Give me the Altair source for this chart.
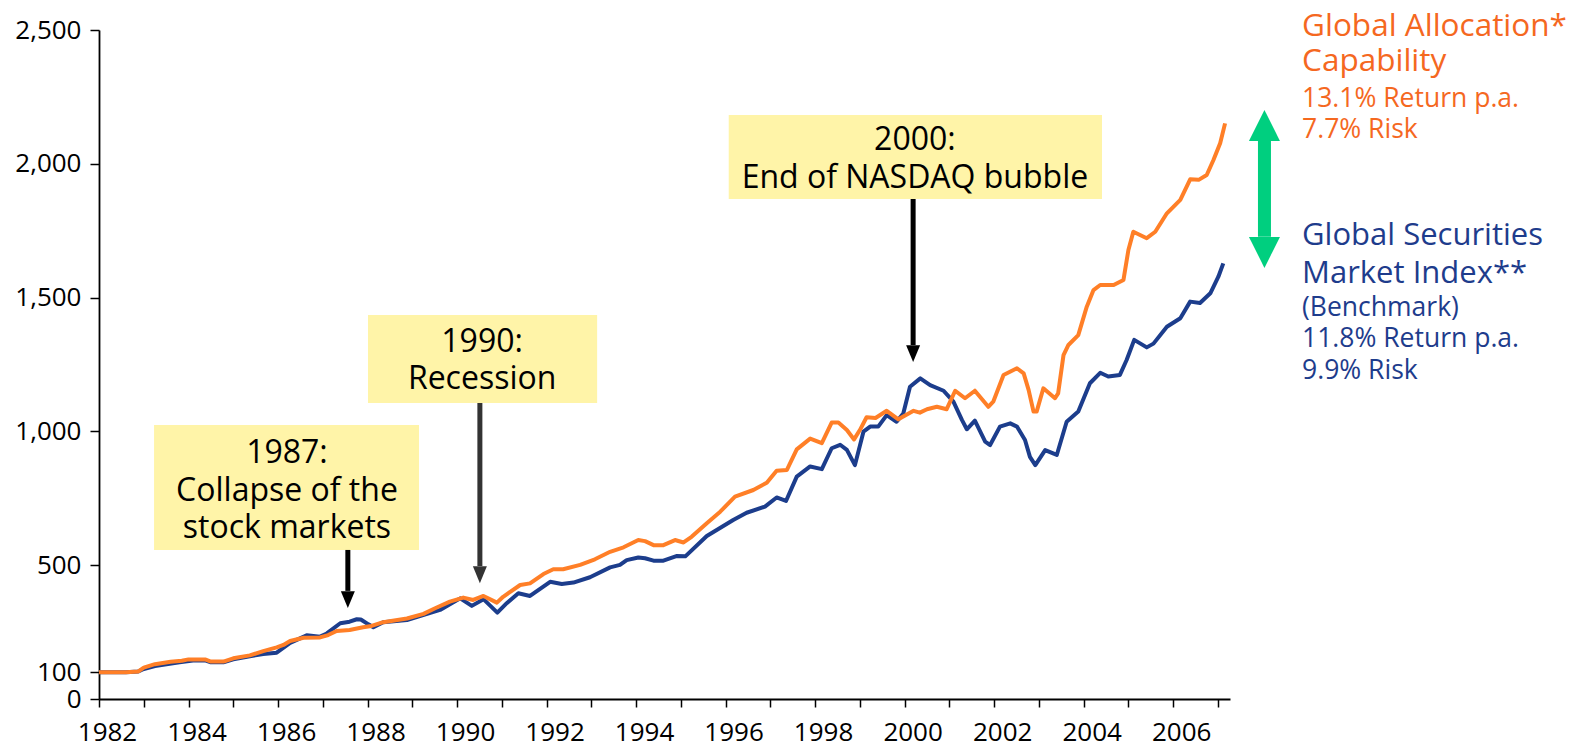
import altair as alt
import pandas as pd

# ---------------- data ----------------
ga_years = [1982.0, 1982.6, 1982.88, 1983.0, 1983.25, 1983.6, 1983.85, 1984.0, 1984.37, 1984.5,
            1984.78, 1985.0, 1985.37, 1985.67, 1985.97, 1986.12, 1986.27, 1986.57, 1986.94, 1987.12,
            1987.31, 1987.6, 1987.9, 1988.09, 1988.35, 1988.88, 1989.25, 1989.51, 1989.84, 1990.14,
            1990.36, 1990.59, 1990.89, 1991.03, 1991.41, 1991.63, 1991.93, 1992.15, 1992.37, 1992.75,
            1993.08, 1993.42, 1993.72, 1994.05, 1994.2, 1994.39, 1994.61, 1994.87, 1995.06, 1995.24,
            1995.58, 1995.88, 1996.21, 1996.62, 1996.92, 1997.14, 1997.37, 1997.59, 1997.89, 1998.15,
            1998.37, 1998.52, 1998.71, 1998.87, 1999.0, 1999.15, 1999.35, 1999.6, 1999.86, 2000.2,
            2000.34, 2000.5, 2000.72, 2000.94, 2001.13, 2001.35, 2001.57, 2001.87, 2001.98, 2002.21,
            2002.51, 2002.66, 2002.77, 2002.88, 2002.95, 2003.1, 2003.36, 2003.43, 2003.55, 2003.66,
            2003.88, 2004.07, 2004.22, 2004.37, 2004.67, 2004.89, 2005.0, 2005.11, 2005.41, 2005.6,
            2005.86, 2006.16, 2006.38, 2006.57, 2006.75, 2006.9, 2007.05, 2007.16]
ga_values = [100, 100, 103, 117, 130, 139, 143, 148, 148, 140,
             140, 152, 163, 179, 193, 202, 217, 229, 230, 239,
             254, 258, 268, 273, 287, 301, 318, 339, 364, 379,
             370, 385, 360, 382, 426, 432, 467, 485, 485, 501,
             522, 550, 567, 594, 590, 575, 575, 594, 585, 606,
             657, 700, 756, 781, 808, 853, 856, 933, 973, 956,
             1033, 1033, 1005, 970, 1005, 1053, 1050, 1077, 1045, 1077,
             1070, 1083, 1092, 1083, 1152, 1124, 1152, 1092, 1111, 1211,
             1236, 1217, 1155, 1074, 1074, 1161, 1124, 1142, 1285, 1323,
             1360, 1466, 1528, 1547, 1547, 1566, 1678, 1746, 1722, 1746,
             1815, 1865, 1942, 1940, 1958, 2014, 2077, 2151]

gs_years = [1982.0, 1982.6, 1982.88, 1983.0, 1983.25, 1983.8, 1984.1, 1984.37, 1984.5, 1984.78,
            1985.0, 1985.37, 1985.67, 1985.97, 1986.27, 1986.64, 1986.94, 1987.09, 1987.39, 1987.6,
            1987.76, 1987.85, 1988.02, 1988.13, 1988.35, 1988.88, 1989.62, 1990.07, 1990.33, 1990.59,
            1990.9, 1991.11, 1991.37, 1991.63, 1992.08, 1992.34, 1992.6, 1992.97, 1993.42, 1993.64,
            1993.79, 1994.05, 1994.2, 1994.39, 1994.61, 1994.9, 1995.1, 1995.58, 1996.17, 1996.47,
            1996.88, 1997.14, 1997.35, 1997.59, 1997.89, 1998.15, 1998.37, 1998.56, 1998.71, 1998.89,
            1999.08, 1999.23, 1999.41, 1999.6, 1999.82, 1999.97, 2000.12, 2000.35, 2000.57, 2000.87,
            2001.09, 2001.28, 2001.39, 2001.57, 2001.8, 2001.91, 2002.13, 2002.36, 2002.51, 2002.69,
            2002.8, 2002.92, 2003.14, 2003.4, 2003.62, 2003.88, 2004.14, 2004.37, 2004.55, 2004.81,
            2004.96, 2005.13, 2005.41, 2005.56, 2005.86, 2006.16, 2006.38, 2006.6, 2006.83, 2007.01,
            2007.12]
gs_values = [100, 100, 103, 112, 123, 137, 144, 144, 137, 137,
             148, 160, 168, 173, 210, 238, 233, 245, 283, 289,
             298, 297, 279, 268, 287, 295, 333, 376, 348, 373,
             323, 358, 395, 385, 438, 430, 435, 455, 492, 501,
             519, 529, 526, 517, 517, 534, 533, 609, 669, 696,
             719, 753, 740, 831, 869, 859, 937, 950, 931, 874,
             999, 1018, 1018, 1061, 1036, 1067, 1167, 1198, 1173, 1152,
             1111, 1043, 1008, 1040, 962, 949, 1018, 1030, 1018, 968,
             905, 874, 930, 912, 1036, 1074, 1180, 1219, 1205, 1211,
             1267, 1342, 1314, 1328, 1391, 1423, 1485, 1480, 1516, 1578,
             1628]

x_ticks = list(range(1982, 2008))
y_ticks = [0, 100, 500, 1000, 1500, 2000, 2500]

# annotation boxes (in data units)
box_x1 = [1983.23, 1988.01, 1996.07]
box_x2 = [1989.15, 1993.13, 2004.41]
box_y1 = [557, 1106, 1868]
box_y2 = [1024, 1435, 2182]

ann_text = ["1987:", "Collapse of the", "stock markets", "1990:", "Recession",
            "2000:", "End of NASDAQ bubble"]
ann_x = [1986.2, 1986.2, 1986.2, 1990.56, 1990.56, 2000.23, 2000.23]
ann_y = [921, 777, 639, 1335, 1197, 2090, 1948]

arrow_x = [1987.56, 1990.51, 2000.19]
arrow_top = [557, 1106, 1868]
arrow_base = [404, 497, 1323]
arrow_tip = [340, 433, 1259]
arrow_color = ["#000000", "#333333", "#000000"]

side_text = ["Global Allocation*", "Capability", "13.1% Return p.a.", "7.7% Risk",
             "Global Securities", "Market Index**", "(Benchmark)", "11.8% Return p.a.", "9.9% Risk"]
side_y = [2476, 2345, 2212, 2097, 1697, 1555, 1433, 1315, 1195]
side_size = [31.5, 31.5, 26.5, 26.5, 31, 31, 26.5, 26.5, 26.5]
side_kind = ["ga"] * 4 + ["gs"] * 5
side_x = 2008.88

gap_x = 2008.04
gap_top = 2201
gap_bottom = 1611
gap_shaft_top = 2085
gap_shaft_bottom = 1727

# ---------------- styling ----------------
FONT = "Open Sans"
ORANGE_LINE = "#FF7F27"
NAVY_LINE = "#1C3D8C"
ORANGE_TEXT = "#F5681F"
NAVY_TEXT = "#1E3C8C"
GREEN = "#00CF7F"
BOX = "#FFF4A8"

xs = alt.Scale(domain=[1982, 2007.27], nice=False, zero=False)
ys = alt.Scale(domain=[0, 2500], nice=False, zero=False)

ga = pd.DataFrame({"year": ga_years, "value": ga_values})
gs = pd.DataFrame({"year": gs_years, "value": gs_values})

x_axis = alt.Axis(values=x_ticks,
                  labelExpr="datum.value % 2 == 0 ? format(datum.value, 'd') : ''",
                  tickSize=8, tickWidth=1.5, domainWidth=1.8, labelPadding=12, labelOffset=8,
                  labelFontSize=26, labelFont=FONT, labelColor="#000000",
                  domainColor="#000000", tickColor="#000000",
                  labelFlush=False, labelOverlap=False, title=None, grid=False)
y_axis = alt.Axis(values=y_ticks, labelExpr="format(datum.value, ',.0f')",
                  tickSize=9, tickWidth=1.5, domainWidth=1.8,
                  labelPadding=9, labelFontSize=26, labelFont=FONT, labelColor="#000000",
                  domainColor="#000000", tickColor="#000000",
                  labelOverlap=False, title=None, grid=False)


def X(field):
    return alt.X(field, scale=xs, axis=x_axis)


def Y(field):
    return alt.Y(field, scale=ys, axis=y_axis)


line_gs = alt.Chart(gs).mark_line(color=NAVY_LINE, strokeWidth=4, strokeJoin="round").encode(
    x=X("year:Q"), y=Y("value:Q"),
)
line_ga = alt.Chart(ga).mark_line(color=ORANGE_LINE, strokeWidth=4, strokeJoin="round").encode(
    x=X("year:Q"), y=Y("value:Q"),
)

boxes_df = pd.DataFrame({"x1": box_x1, "x2": box_x2, "y1": box_y1, "y2": box_y2})
boxes = alt.Chart(boxes_df).mark_rect(color=BOX).encode(
    x=X("x1:Q"), x2="x2:Q", y=Y("y1:Q"), y2="y2:Q",
)

ann_df = pd.DataFrame({"x": ann_x, "y": ann_y, "t": ann_text})
ann = alt.Chart(ann_df).mark_text(font=FONT, fontSize=32, color="#000000", align="center",
                                  baseline="middle").encode(
    x=X("x:Q"), y=Y("y:Q"), text="t:N",
)

arr_df = pd.DataFrame({"x": arrow_x, "top": arrow_top, "base": arrow_base, "tip": arrow_tip,
                       "c": arrow_color})
shafts = alt.Chart(arr_df).mark_rule(strokeWidth=5).encode(
    x=X("x:Q"), y=Y("top:Q"), y2="base:Q",
    color=alt.Color("c:N", scale=None),
)
heads = alt.Chart(arr_df).mark_point(shape="M-1,-2.4L1,-2.4L0,0Z", filled=True, size=196,
                                     opacity=1, strokeWidth=0).encode(
    x=X("x:Q"), y=Y("tip:Q"),
    color=alt.Color("c:N", scale=None),
)

gap_df = pd.DataFrame({"x": [gap_x], "t": [gap_top], "b": [gap_bottom],
                       "st": [gap_shaft_top], "sb": [gap_shaft_bottom]})
gap_shaft = alt.Chart(gap_df).mark_rule(strokeWidth=13, color=GREEN).encode(
    x=X("x:Q"), y=Y("st:Q"), y2="sb:Q",
)
gap_up = alt.Chart(gap_df).mark_point(shape="M-1,2L1,2L0,0Z", filled=True, size=961, opacity=1,
                                      strokeWidth=0, color=GREEN).encode(
    x=X("x:Q"), y=Y("t:Q"),
)
gap_down = alt.Chart(gap_df).mark_point(shape="M-1,-2L1,-2L0,0Z", filled=True, size=961, opacity=1,
                                        strokeWidth=0, color=GREEN).encode(
    x=X("x:Q"), y=Y("b:Q"),
)

side_df = pd.DataFrame({"x": [side_x] * len(side_text), "y": side_y, "t": side_text,
                        "s": side_size, "k": side_kind})
side = alt.Chart(side_df).mark_text(font=FONT, align="left", baseline="alphabetic").encode(
    x=X("x:Q"), y=Y("y:Q"),
    text="t:N",
    size=alt.Size("s:Q", scale=None, legend=None),
    color=alt.Color("k:N", scale=alt.Scale(domain=["ga", "gs"], range=[ORANGE_TEXT, NAVY_TEXT]),
                    legend=None),
)

chart = alt.layer(
    line_gs, line_ga, boxes, shafts, heads, ann, gap_shaft, gap_up, gap_down, side
).properties(
    width=1131, height=669,
    background="white",
    autosize=alt.AutoSizeParams(type="none"),
    padding={"left": 91, "top": 22, "right": 344, "bottom": 44},
).configure_view(strokeWidth=0, stroke="transparent").configure_axis(
    domainColor="#000000", tickColor="#000000", labelColor="#000000", labelFont=FONT,
)

chart.save("out.html", embed_options={"renderer": "svg", "actions": False})
